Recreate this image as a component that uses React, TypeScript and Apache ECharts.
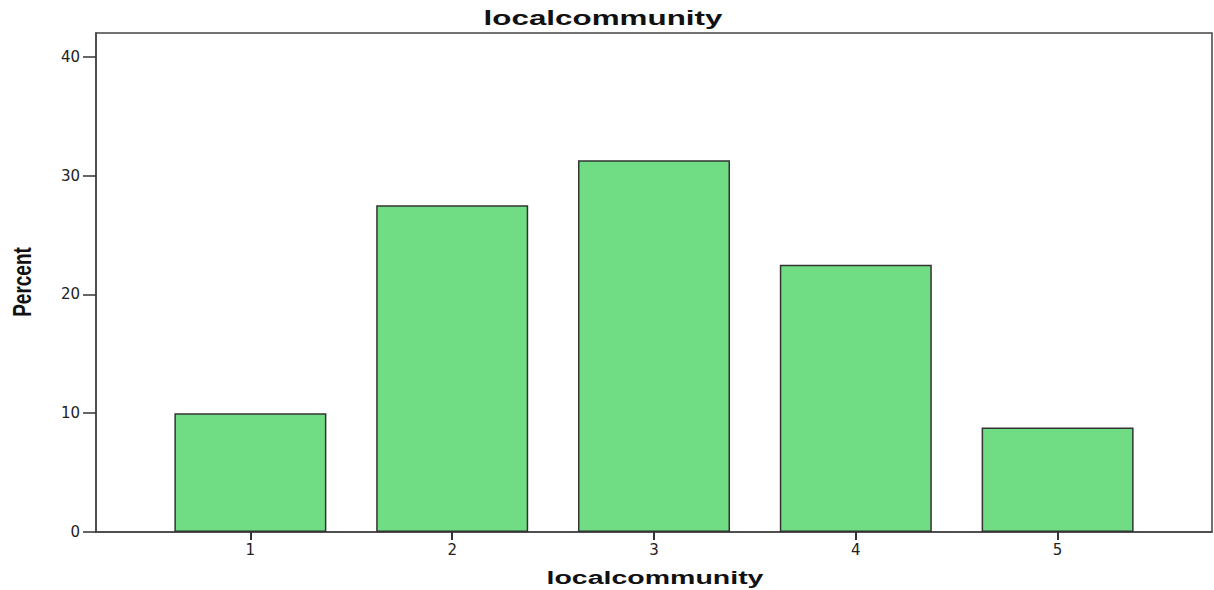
import React, { useEffect, useRef } from "react";
import * as echarts from "echarts";

const categories = [1, 2, 3, 4, 5];
const percents = [10.0, 27.5, 31.3, 22.5, 8.8];
const yTicks = [0, 10, 20, 30, 40];
const titleText = "localcommunity";
const xName = "localcommunity";
const yName = "Percent";

export default function App() {
  const ref = useRef<HTMLDivElement>(null);
  useEffect(() => {
    const chart = echarts.init(ref.current!, null, { renderer: "svg" });
    chart.setOption({
      animation: false,
      backgroundColor: "#ffffff",
      grid: {
        left: 96,
        right: 2,
        top: 33,
        bottom: 58,
        show: true,
        borderColor: "#444",
        borderWidth: 1.5,
        outerBoundsMode: "none",
        containLabel: false,
      },
      graphic: [
        {
          type: "text",
          x: 603,
          y: 18,
          scaleX: 1.57,
          style: {
            text: titleText,
            x: 0,
            y: 0,
            align: "center",
            verticalAlign: "middle",
            font: "bold 20px 'Liberation Sans'",
            fill: "#111",
          },
        },
        {
          type: "text",
          x: 655,
          y: 577,
          scaleX: 1.5,
          style: {
            text: xName,
            x: 0,
            y: 0,
            align: "center",
            verticalAlign: "middle",
            font: "bold 19px 'Liberation Sans'",
            fill: "#111",
          },
        },
        {
          type: "text",
          x: 22,
          y: 282,
          rotation: Math.PI / 2,
          scaleY: 1.35,
          scaleX: 1.0,
          style: {
            text: yName,
            x: 0,
            y: 0,
            align: "center",
            verticalAlign: "middle",
            font: "bold 19px 'Liberation Sans'",
            fill: "#111",
          },
        },
      ],
      xAxis: {
        type: "value",
        min: 0.235,
        max: 5.765,
        splitLine: { show: false },
        axisLine: { lineStyle: { color: "#444", width: 1.5 } },
        axisTick: { customValues: categories, length: 8, lineStyle: { color: "#333", width: 2 } },
        axisLabel: {
          customValues: categories,
          margin: 10,
          fontFamily: "DejaVu Sans",
          fontSize: 15,
          color: "#222",
        },
      },
      yAxis: {
        type: "value",
        min: 0,
        max: 42,
        interval: 10,
        splitLine: { show: false },
        axisLine: { show: true, lineStyle: { color: "#444", width: 1.5 } },
        axisTick: { show: true, customValues: yTicks, length: 13, lineStyle: { color: "#333", width: 1.5 } },
        axisLabel: {
          customValues: yTicks,
          margin: 16,
          fontFamily: "DejaVu Sans",
          fontSize: 15,
          color: "#222",
        },
      },
      series: [
        {
          type: "bar",
          data: categories.map((c, i) => [c, percents[i]]),
          barWidth: 152,
          itemStyle: { color: "#70dc84", borderColor: "#333", borderWidth: 1.5 },
        },
      ],
    });
    return () => chart.dispose();
  }, []);
  return <div ref={ref} style={{ position: "fixed", left: 0, top: 0, width: 1214, height: 590 }} />;
}
